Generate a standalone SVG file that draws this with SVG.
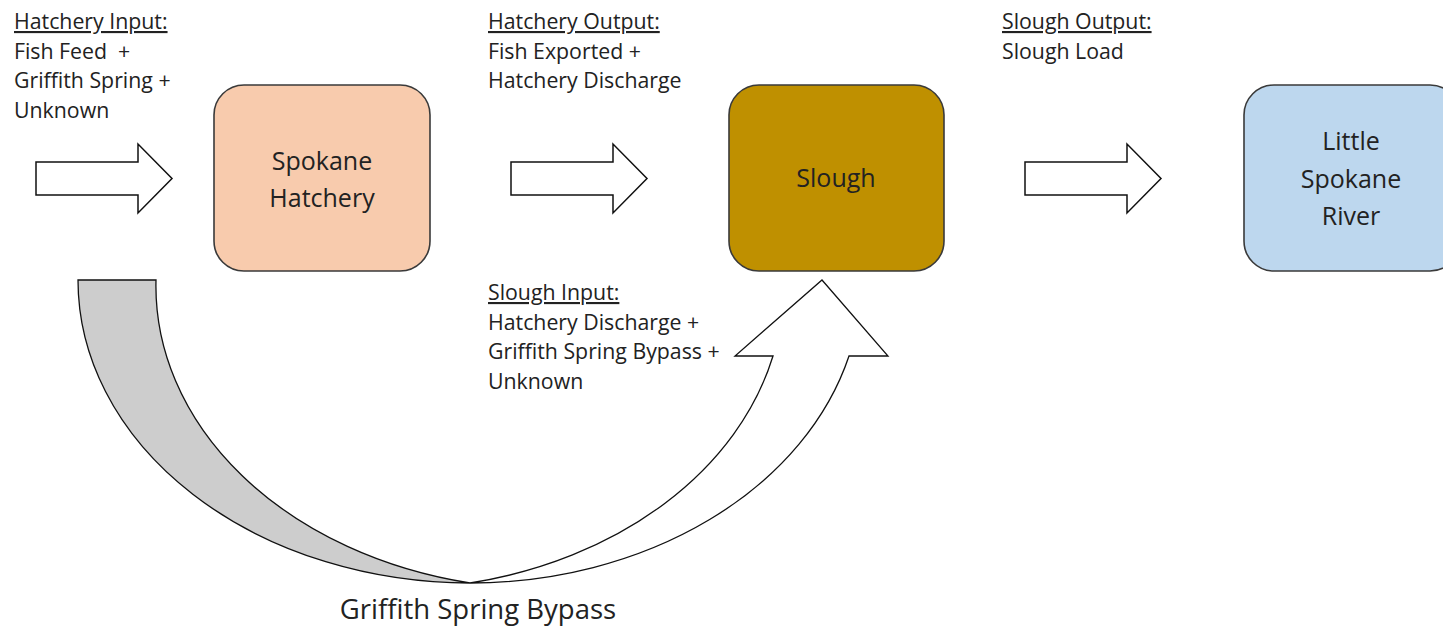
<svg xmlns="http://www.w3.org/2000/svg" xmlns:xlink="http://www.w3.org/1999/xlink" width="1443" height="626" viewBox="0 0 1443 626">
  <style>
    .box { stroke: #3a3a3a; stroke-width: 1.6; }
    .boxtxt { font-family: "Open Sans", "Liberation Sans", sans-serif; font-size: 25px; fill: #222; text-anchor: middle; }
    .lbl { font-family: "Open Sans", "Liberation Sans", sans-serif; font-size: 21.3px; fill: #222; }
    .hd { text-decoration: underline; }
    .blk { fill: #fff; stroke: #111; stroke-width: 1.5; stroke-linejoin: miter; }
    .curve { stroke: #111; stroke-width: 1.3; stroke-linejoin: miter; }
  </style>
  <defs>
    <path id="blockArrow" d="M36,162 L138,162 L138,144 L172,178.5 L138,213 L138,195 L36,195 Z"/>
  </defs>

  <g id="connectors">
    <use xlink:href="#blockArrow" href="#blockArrow" class="blk"/>
    <use xlink:href="#blockArrow" href="#blockArrow" class="blk" transform="translate(475,0)"/>
    <use xlink:href="#blockArrow" href="#blockArrow" class="blk" transform="translate(989,0)"/>
    <g id="bypass-arrow">
      <path class="curve" fill="#cdcdcd" d="M470,583 A392,303 0 0 1 78,280 L156,280 A392,303 0 0 0 470,583 Z"/>
      <path class="curve" fill="#ffffff" d="M822,280 L888,356 L849,356 A392,303 0 0 1 470,583 A392,303 0 0 0 773,356 L735,356 Z"/>
    </g>
  </g>

  <g id="node-hatchery">
    <rect class="box" x="214" y="85" width="216" height="186" rx="30" ry="30" fill="#F8CBAD"/>
    <text class="boxtxt" x="322" y="170">Spokane</text>
    <text class="boxtxt" x="322" y="207">Hatchery</text>
  </g>

  <g id="node-slough">
    <rect class="box" x="729" y="85" width="215" height="186" rx="30" ry="30" fill="#BF9000"/>
    <text class="boxtxt" x="836" y="187">Slough</text>
  </g>

  <g id="node-river">
    <rect class="box" x="1244" y="85" width="216" height="186" rx="30" ry="30" fill="#BDD7EE"/>
    <text class="boxtxt" x="1351" y="150">Little</text>
    <text class="boxtxt" x="1351" y="187.5">Spokane</text>
    <text class="boxtxt" x="1351" y="225">River</text>
  </g>

  <g id="label-hatchery-input">
    <text class="lbl hd" x="14" y="29">Hatchery Input:</text>
    <text class="lbl" x="14" y="58.5" style="white-space:pre">Fish Feed  +</text>
    <text class="lbl" x="14" y="88">Griffith Spring +</text>
    <text class="lbl" x="14" y="117.5">Unknown</text>
  </g>

  <g id="label-hatchery-output">
    <text class="lbl hd" x="488" y="29">Hatchery Output:</text>
    <text class="lbl" x="488" y="58.5">Fish Exported +</text>
    <text class="lbl" x="488" y="88">Hatchery Discharge</text>
  </g>

  <g id="label-slough-output">
    <text class="lbl hd" x="1002" y="29">Slough Output:</text>
    <text class="lbl" x="1002" y="58.5">Slough Load</text>
  </g>

  <g id="label-slough-input">
    <text class="lbl hd" x="488" y="300">Slough Input:</text>
    <text class="lbl" x="488" y="329.5">Hatchery Discharge +</text>
    <text class="lbl" x="488" y="359">Griffith Spring Bypass +</text>
    <text class="lbl" x="488" y="388.5">Unknown</text>
  </g>

  <g id="label-bypass">
    <text x="478" y="619" style="font-family:'Open Sans','Liberation Sans',sans-serif;font-size:27.5px;fill:#222;text-anchor:middle">Griffith Spring Bypass</text>
  </g>
</svg>
